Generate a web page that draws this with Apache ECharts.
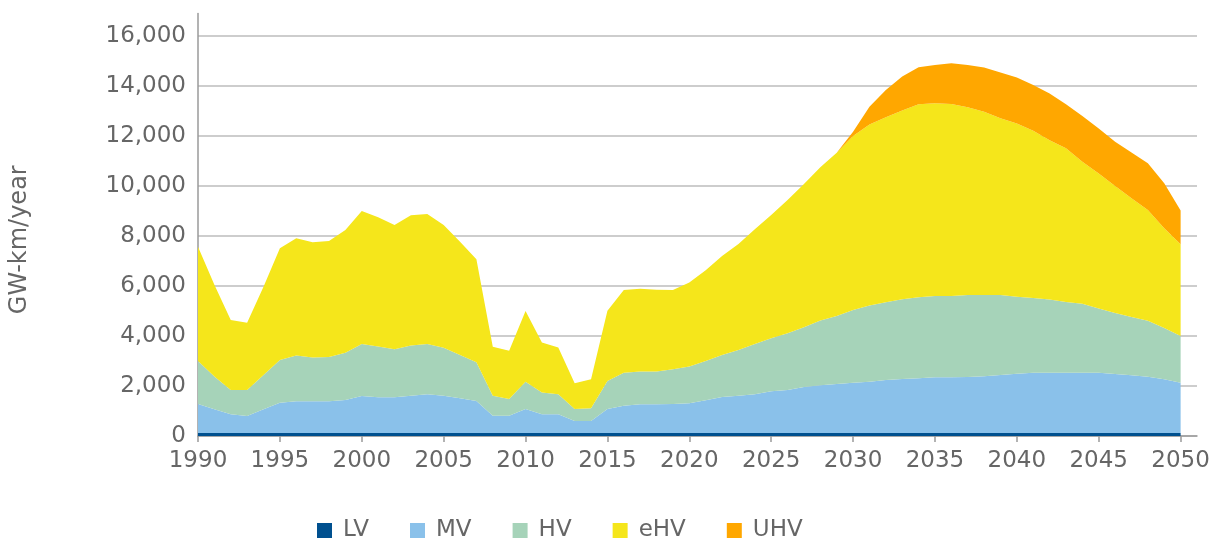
<!DOCTYPE html>
<html>
<head>
<meta charset="utf-8">
<title>GW-km/year</title>
<script src="https://cdn.jsdelivr.net/npm/echarts@6/dist/echarts.min.js"></script>
<style>
  html, body { margin: 0; padding: 0; background: #fff; }
  #chart { width: 1220px; height: 545px; }
</style>
</head>
<body>
<div id="chart"></div>
<script>
// years on the x axis (2051 is only an empty slot so the axis runs a bit past 2050)
var years = [];
for (var y = 1990; y <= 2051; y++) years.push(String(y));

// GW-km/year per voltage level (stacked)
var lv = [
  120, 120, 120, 120, 120, 120, 120, 120, 120, 120,
  120, 120, 120, 120, 120, 120, 120, 120, 120, 120,
  120, 120, 120, 120, 120, 120, 120, 120, 120, 120,
  120, 120, 120, 120, 120, 120, 120, 120, 120, 120,
  120, 120, 120, 120, 120, 120, 120, 120, 120, 120,
  120, 120, 120, 120, 120, 120, 120, 120, 120, 120,
  120
];
var mv = [
  1160, 950, 750, 680, 950, 1210, 1270, 1270, 1270, 1320,
  1480, 1430, 1430, 1490, 1550, 1490, 1390, 1280, 690, 690,
  960, 750, 750, 480, 480, 960, 1090, 1150, 1150, 1160,
  1190, 1310, 1440, 1490, 1550, 1670, 1720, 1840, 1910, 1960,
  2010, 2050, 2120, 2160, 2190, 2230, 2230, 2240, 2270, 2320,
  2370, 2410, 2410, 2410, 2410, 2410, 2360, 2310, 2250, 2150,
  2010
];
var hv = [
  1720, 1310, 970, 1040, 1370, 1710, 1830, 1750, 1770, 1890,
  2080, 2030, 1920, 2010, 2010, 1920, 1730, 1550, 800, 670,
  1090, 870, 800, 480, 510, 1120, 1320, 1310, 1310, 1390,
  1470, 1570, 1680, 1830, 2010, 2120, 2270, 2390, 2590, 2720,
  2910, 3050, 3110, 3190, 3240, 3250, 3250, 3280, 3250, 3200,
  3080, 2990, 2930, 2830, 2760, 2570, 2440, 2330, 2240, 2050,
  1870
];
var ehv = [
  4570, 3670, 2800, 2690, 3530, 4470, 4690, 4610, 4640, 4910,
  5320, 5170, 4970, 5210, 5200, 4910, 4530, 4120, 1960, 1930,
  2830, 2000, 1870, 1030, 1160, 2810, 3310, 3310, 3270, 3170,
  3360, 3630, 3960, 4240, 4590, 4930, 5330, 5730, 6130, 6530,
  6960, 7240, 7400, 7550, 7720, 7710, 7680, 7510, 7330, 7070,
  6930, 6690, 6370, 6150, 5680, 5400, 5080, 4750, 4430, 3990,
  3670
];
var uhv = [
  0, 0, 0, 0, 0, 0, 0, 0, 0, 0,
  0, 0, 0, 0, 0, 0, 0, 0, 0, 0,
  0, 0, 0, 0, 0, 0, 0, 0, 0, 0,
  0, 0, 0, 0, 0, 0, 0, 0, 0, 0,
  170, 710, 1090, 1360, 1480, 1530, 1630, 1690, 1770, 1830,
  1840, 1830, 1870, 1760, 1830, 1800, 1770, 1830, 1870, 1800,
  1350
];

var names = ["LV", "MV", "HV", "eHV", "UHV"];
var colors = ["#00508f", "#8ac1ea", "#a6d3b9", "#f5e61b", "#ffa700"];
var values = [lv, mv, hv, ehv, uhv];

var font = "DejaVu Sans";
var textColor = "#666666";

var myChart = echarts.init(document.getElementById("chart"));

myChart.setOption({
  animation: false,
  color: colors,
  grid: { left: 198, right: 23, top: 13.5, bottom: 109 },
  legend: {
    data: names,
    left: 317,
    top: 519,
    padding: 0,
    icon: "rect",
    itemWidth: 15,
    itemHeight: 15,
    itemGap: 41,
    textStyle: { fontFamily: font, fontSize: 23, color: textColor, padding: [0, 0, 0, 6] }
  },
  xAxis: {
    type: "category",
    data: years,
    boundaryGap: false,
    splitLine: { show: false },
    axisLine: { lineStyle: { color: "#9a9a9a", width: 1.5 } },
    axisTick: { interval: 4, length: 6, lineStyle: { color: "#9a9a9a", width: 1.5 } },
    axisLabel: {
      interval: 4,
      margin: 14,
      fontFamily: font,
      fontSize: 23,
      color: textColor
    }
  },
  yAxis: {
    type: "value",
    min: 0,
    max: 16900,
    interval: 2000,
    name: "GW-km/year",
    nameLocation: "middle",
    nameRotate: 90,
    nameGap: 166,
    nameTextStyle: { fontFamily: font, fontSize: 24, color: textColor, padding: [0, 30, 0, 0] },
    axisLine: { show: true, lineStyle: { color: "#9a9a9a", width: 1.5 } },
    axisTick: { show: false },
    splitLine: { showMaxLine: false, lineStyle: { color: "#bdbdbd", width: 1.5 } },
    axisLabel: { showMaxLabel: false, margin: 12, fontFamily: font, fontSize: 23, color: textColor }
  },
  series: names.map(function (name, i) {
    return {
      name: name,
      type: "line",
      stack: "total",
      symbol: "none",
      lineStyle: { width: 0 },
      areaStyle: { color: colors[i], opacity: 1 },
      data: values[i]
    };
  })
});
</script>
</body>
</html>
